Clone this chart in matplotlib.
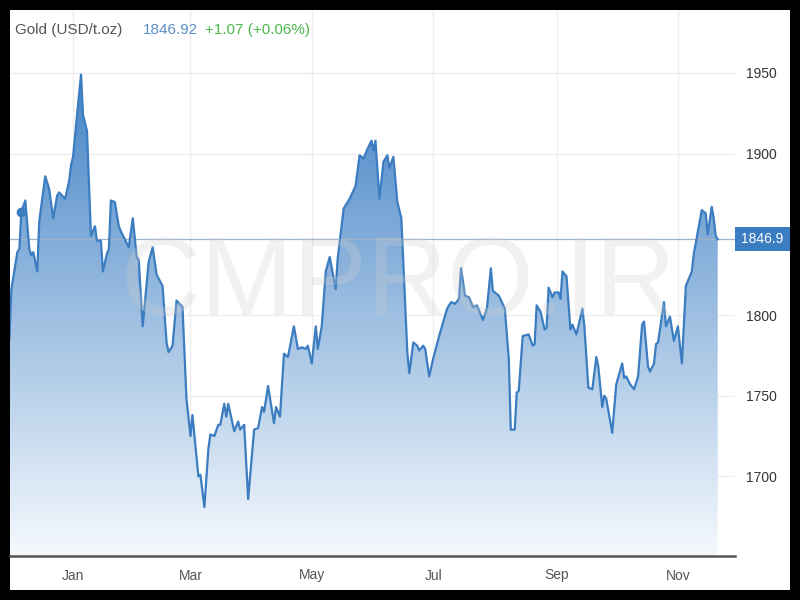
import numpy as np
import pandas as pd
import matplotlib
matplotlib.use("Agg")
import matplotlib.pyplot as plt
import matplotlib.dates as mdates
from matplotlib.colors import LinearSegmentedColormap
from matplotlib.patches import Rectangle

# gold price, days counted from 2021-01-01
days = [-32, -31, -28, -27, -26, -24, -22, -21, -20, -18, -17, -14, -12, -10, -8, -7, -4, -2, -1, 0,
        2, 4, 5, 7, 9, 11, 12, 14, 15, 17, 18, 19, 21, 23, 24, 28, 30, 32, 33, 35,
        38, 40, 42, 45, 47, 48, 50, 52, 55, 57, 59, 60, 63, 64, 66, 68, 69, 71, 73, 74,
        76, 77, 78, 81, 83, 84, 86, 88, 91, 93, 95, 96, 98, 101, 102, 104, 106, 108, 111, 113,
        115, 117, 118, 120, 122, 123, 125, 127, 129, 132, 133, 136, 139, 142, 144, 146, 148, 150, 151, 152,
        154, 156, 158, 159, 161, 163, 165, 168, 169, 171, 173, 174, 176, 177, 179, 181, 184, 188, 190, 192,
        194, 195, 197, 199, 201, 203, 206, 208, 210, 211, 214, 217, 219, 220, 222, 223, 224, 226, 229, 231,
        232, 233, 235, 237, 238, 239, 241, 242, 244, 245, 246, 248, 250, 251, 253, 256, 257, 259, 261, 263,
        264, 266, 267, 268, 271, 273, 276, 277, 278, 280, 282, 284, 286, 287, 289, 290, 292, 293, 294, 297,
        298, 300, 302, 304, 306, 308, 311, 312, 315, 316, 318, 319, 321, 322, 323, 324]
price = [1785, 1816, 1839, 1841, 1864, 1871, 1841, 1837, 1839, 1827, 1858, 1886, 1878, 1860, 1874, 1876, 1872, 1883, 1893, 1898,
         1924, 1949, 1924, 1914, 1849, 1855, 1846, 1846, 1827, 1838, 1841, 1871, 1870, 1855, 1852, 1842, 1860, 1836, 1834, 1793,
         1833, 1842, 1825, 1818, 1783, 1777, 1781, 1809, 1805, 1748, 1725, 1738, 1700, 1701, 1681, 1717, 1726, 1725, 1732, 1732,
         1745, 1737, 1745, 1728, 1734, 1729, 1732, 1686, 1729, 1730, 1743, 1740, 1756, 1733, 1743, 1737, 1776, 1774, 1793, 1779,
         1780, 1779, 1781, 1770, 1793, 1779, 1793, 1827, 1836, 1816, 1835, 1866, 1872, 1880, 1899, 1897, 1903, 1908, 1902, 1908,
         1872, 1895, 1899, 1891, 1898, 1870, 1860, 1777, 1764, 1783, 1781, 1778, 1781, 1779, 1762, 1773, 1787, 1804, 1808, 1807,
         1810, 1829, 1812, 1811, 1805, 1806, 1797, 1804, 1829, 1815, 1812, 1804, 1773, 1729, 1729, 1752, 1753, 1787, 1788, 1781,
         1782, 1806, 1802, 1791, 1792, 1817, 1811, 1814, 1814, 1810, 1827, 1824, 1791, 1794, 1788, 1804, 1793, 1755, 1754, 1774,
         1768, 1743, 1750, 1748, 1727, 1757, 1770, 1761, 1762, 1757, 1754, 1762, 1794, 1796, 1768, 1765, 1770, 1782, 1783, 1808,
         1793, 1799, 1784, 1793, 1770, 1818, 1827, 1838, 1858, 1865, 1863, 1850, 1867, 1860, 1849, 1846.92]

last_price = 1846.92
change = "+1.07 (+0.06%)"
tick_dates = ["2021-01-01", "2021-03-01", "2021-05-01", "2021-07-01", "2021-09-01", "2021-11-01"]
tick_labels = ["Jan", "Mar", "May", "Jul", "Sep", "Nov"]
y_ticks = [1700, 1750, 1800, 1900, 1950]  # 1850 sits under the price box

base = pd.Timestamp("2021-01-01")
x = mdates.date2num(base + pd.to_timedelta(days, unit="D"))
y = np.array(price)

fig = plt.figure(figsize=(8, 6), dpi=100, facecolor="black")
fig.add_artist(Rectangle((10 / 800, 10 / 600), 780 / 800, 580 / 600,
                         transform=fig.transFigure, facecolor="white", edgecolor="none", zorder=0))

ax = fig.add_axes([10 / 800, 44 / 600, 725 / 800, 546 / 600])
ax.set_facecolor("none")

ymin, ymax = 1650.7, 1989
x0 = mdates.date2num(base + pd.Timedelta(days=-31.7))
x1 = mdates.date2num(base + pd.Timedelta(days=332.7))

# gradient fill under the line
cmap = LinearSegmentedColormap.from_list("gold", ["#f5f9fd", "#4584c6"])
grad = np.linspace(0, 1, 256).reshape(-1, 1)
poly = ax.fill_between(x, y, ymin, color="none", lw=0)
img = ax.imshow(grad, extent=[x[0], x[-1], ymin, 1950], aspect="auto",
                cmap=cmap, origin="lower", zorder=1)
img.set_clip_path(poly.get_paths()[0], transform=ax.transData)

ax.plot(x, y, color="#3b7dc0", lw=1.6, zorder=3)
ax.plot(x[4], y[4], "o", color="#3b7dc0", ms=6, zorder=3)

ax.axhline(last_price, color="#9fb3c8", lw=0.9, zorder=2)

ax.set_xlim(x0, x1)
ax.set_ylim(ymin, ymax)

ax.set_xticks(mdates.date2num(pd.to_datetime(tick_dates)))
ax.set_xticklabels(tick_labels)
ax.set_yticks(y_ticks)
ax.yaxis.tick_right()
ax.tick_params(axis="y", length=0, pad=8, labelsize=10, labelcolor="#333333")
ax.tick_params(axis="x", length=0, pad=9, labelsize=10, labelcolor="#555555")
for lab in ax.get_xticklabels() + ax.get_yticklabels():
    lab.set_family(["Liberation Sans Narrow", "Liberation Sans", "DejaVu Sans"])

ax.grid(True, color="#eeeeee", lw=1, zorder=0)
ax.set_axisbelow(True)
for s in ["top", "left", "right"]:
    ax.spines[s].set_visible(False)
ax.spines["bottom"].set_color("#555555")
ax.spines["bottom"].set_linewidth(1.8)

# watermark
ax.text(0.535, 0.495, "CMPRO.IR", transform=ax.transAxes, ha="center", va="center",
        fontsize=80, color="#cfcfcf", alpha=0.28, family="Liberation Sans", zorder=4)

# current price box
trans = ax.get_yaxis_transform()
ax.add_patch(Rectangle((1.0, last_price - 7.5), 55 / 725, 15, transform=trans,
                       facecolor="#3a7dc1", edgecolor="none", clip_on=False, zorder=6))
ax.text(1.0 + 27 / 725, last_price, "1846.9", transform=trans, ha="center", va="center",
        color="white", fontsize=10, family="Liberation Sans", zorder=7, clip_on=False)

# header
fig.text(15 / 800, 1 - 30 / 600, "Gold (USD/t.oz)", color="#555555", fontsize=11,
         family="Liberation Sans", va="center")
fig.text(143 / 800, 1 - 30 / 600, f"{last_price:.2f}", color="#5b8fc7", fontsize=11,
         family="Liberation Sans", va="center")
fig.text(205 / 800, 1 - 30 / 600, change, color="#4cb84c", fontsize=11,
         family="Liberation Sans", va="center")

fig.savefig("out.png", dpi=100, facecolor="black")
